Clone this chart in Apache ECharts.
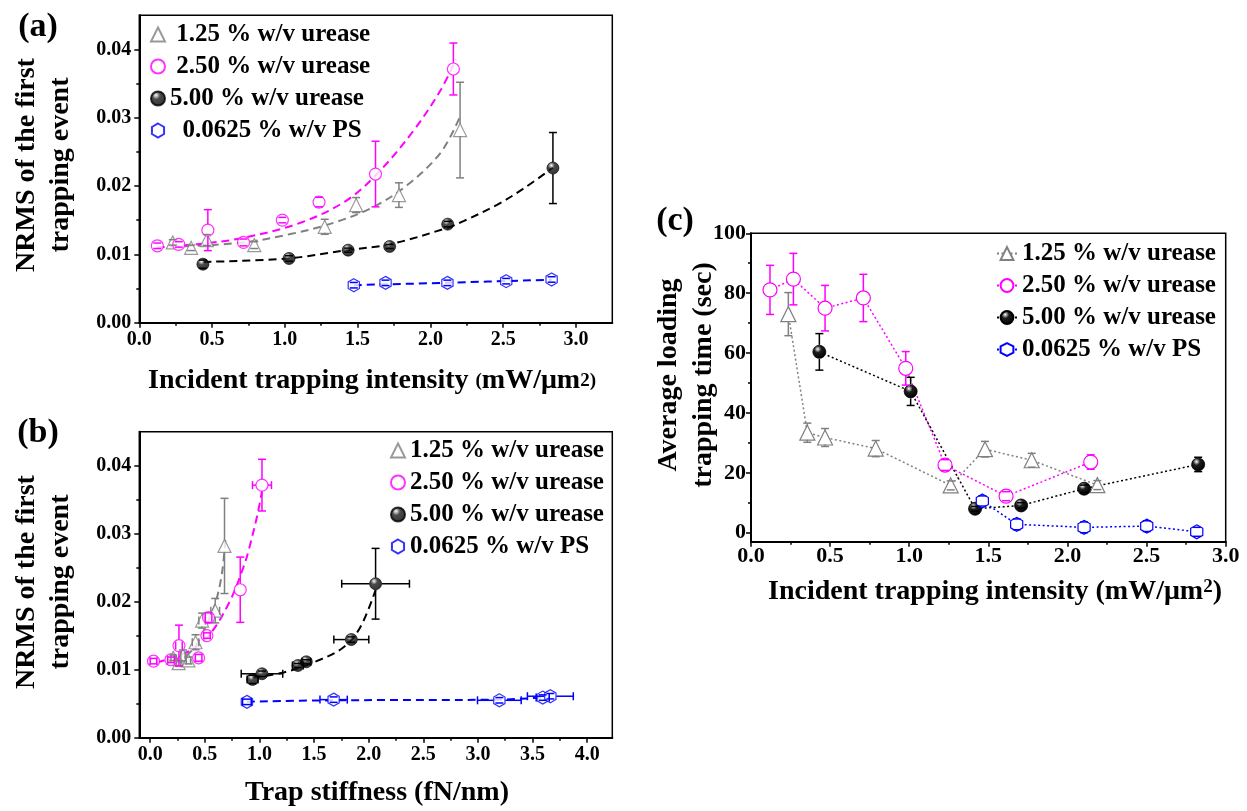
<!DOCTYPE html>
<html>
<head>
<meta charset="utf-8">
<script src="https://cdn.jsdelivr.net/npm/echarts@6/dist/echarts.min.js"></script>
<style>html,body{margin:0;padding:0;background:#fff;}#chart{width:1247px;height:811px;}</style>
</head>
<body>
<div id="chart"></div>
<script>
// ---------- DATA ----------
// Panel (a): [intensity, NRMS, yErr]
const a125 = [[0.23,0.01175,0.0004],[0.356,0.01096,0.0004],[0.464,0.0121,0.0008],[0.79,0.01136,0.0005],[1.274,0.01404,0.0011],[1.49,0.01722,0.0011],[1.784,0.01868,0.0018],[2.204,0.0282,0.007]];
const a250 = [[0.124,0.01126,0.0004],[0.271,0.01146,0.0004],[0.471,0.01355,0.003],[0.716,0.01175,0.0005],[0.983,0.01502,0.0004],[1.235,0.01766,0.0007],[1.623,0.02176,0.0048],[2.158,0.03714,0.0038]];
const a500 = [[0.437,0.00857,0.0006],[1.029,0.0094,0.0004],[1.435,0.01062,0.0003],[1.72,0.01116,0.0003],[2.119,0.01443,0.0004],[2.842,0.02264,0.0052]];
const aPS  = [[1.474,0.00549,0.0004],[1.692,0.00583,0.0004],[2.117,0.00583,0.0004],[2.521,0.00608,0.0004],[2.833,0.00633,0.0004]];
// Panel (a) fitted curves
const aFit125 = [[0.223,0.0111],[0.694,0.0117],[1.038,0.01297],[1.336,0.01463],[1.612,0.01697],[1.841,0.02015],[2.071,0.0249],[2.2,0.0300]];
const aFit250 = [[0.12,0.0110],[0.4,0.0115],[0.694,0.01234],[1.107,0.01463],[1.428,0.01795],[1.658,0.02234],[1.887,0.0282],[2.071,0.03407],[2.174,0.0385]];
const aFit500 = [[0.441,0.0089],[1.015,0.0094],[1.428,0.01062],[1.727,0.0115],[2.117,0.0139],[2.231,0.0149],[2.461,0.0173],[2.645,0.0197],[2.842,0.0227]];
const aFitPS  = [[1.474,0.0055],[2.117,0.00585],[2.833,0.0063]];

// Panel (b): [stiffness, NRMS, yErr, xErr]
const b125 = [[0.21,0.01175,0.0004,0.02],[0.26,0.01096,0.0004,0.02],[0.30,0.0121,0.0008,0.02],[0.35,0.01136,0.0005,0.02],[0.415,0.01404,0.0011,0.03],[0.475,0.01722,0.0011,0.03],[0.595,0.01868,0.0018,0.04],[0.68,0.0282,0.007,0]];
const b250 = [[0.03,0.01126,0.0004,0.03],[0.19,0.01146,0.0004,0.03],[0.263,0.01355,0.003,0.03],[0.443,0.01175,0.0005,0.03],[0.519,0.01502,0.0004,0.03],[0.534,0.01766,0.0007,0.03],[0.824,0.02176,0.0048,0],[1.023,0.03714,0.0038,0.087]];
const b500 = [[0.937,0.00857,0.0006,0.05],[1.023,0.0094,0.0004,0.19],[1.352,0.01062,0.0003,0.05],[1.429,0.01116,0.0003,0.04],[1.841,0.01443,0.0004,0.16],[2.063,0.02264,0.0052,0.31]];
const bPS  = [[0.885,0.00527,0.0004,0.04],[1.679,0.0056,0.0004,0.125],[3.196,0.0055,0.0004,0.2],[3.593,0.0059,0.0004,0.06],[3.663,0.0061,0.0004,0.21]];
const bFit125 = [[0.214,0.01133],[0.33,0.0121],[0.427,0.0138],[0.519,0.01675],[0.595,0.0197],[0.656,0.0241],[0.69,0.0295]];
const bFit250 = [[0.061,0.01108],[0.366,0.0128],[0.549,0.01527],[0.733,0.0202],[0.854,0.0251],[0.9,0.0275],[0.977,0.0325],[1.023,0.0362]];
const bFit500 = [[0.937,0.00886],[1.221,0.0096],[1.496,0.01108],[1.77,0.0133],[1.923,0.01625],[2.063,0.0217]];
const bFitPS  = [[0.885,0.0053],[1.68,0.0055],[3.2,0.0056],[3.66,0.006]];

// Panel (c): [intensity, time(sec), yErr]
const c125 = [[0.236,73.0,7.2],[0.356,33.4,3.2],[0.468,31.8,3.0],[0.788,28.1,2.7],[1.262,15.8,1.5],[1.479,27.9,2.6],[1.774,24.2,2.3],[2.189,15.9,1.5]];
const c250 = [[0.12,81.1,8.2],[0.268,84.7,8.6],[0.468,75.0,7.6],[0.71,78.4,7.9],[0.978,54.9,5.6],[1.226,22.6,1.8],[1.612,12.2,1.5],[2.147,23.6,2.4]];
const c500 = [[0.432,60.4,6.1],[1.009,47.2,4.7],[1.416,8.0,0.8],[1.707,9.1,0.9],[2.105,14.7,1.2],[2.826,22.8,2.4]];
const cPS  = [[1.462,10.6,1.7],[1.679,2.8,1.8],[2.105,1.8,1.8],[2.501,2.2,1.8],[2.817,0.3,1.5]];

// Tick values
const aXTicks = [0,0.5,1,1.5,2,2.5,3];
const aXMinor = [0.25,0.75,1.25,1.75,2.25,2.75];
const nYTicks = [0,0.01,0.02,0.03,0.04];
const nYMinor = [0.005,0.015,0.025,0.035];
const bXTicks = [0,0.5,1,1.5,2,2.5,3,3.5,4];
const bXMinor = [0.25,0.75,1.25,1.75,2.25,2.75,3.25,3.75];
const cXTicks = [0,0.5,1,1.5,2,2.5,3];
const cXMinor = [0.25,0.75,1.25,1.75,2.25,2.75];
const cYTicks = [0,20,40,60,80,100];
const cYMinor = [10,30,50,70,90];

const seriesNames = ['1.25 % w/v urease','2.50 % w/v urease','5.00 % w/v urease','0.0625 % w/v PS'];

// ---------- STYLE ----------
const FONT = '"Liberation Serif","Times New Roman",serif';
const GRAY = '#808080', MAG = '#ff00ff', BLK = '#000000', BLUE = '#0000ff';
const HEX = 'path://M0,-10L8.66,-5L8.66,5L0,10L-8.66,5L-8.66,-5Z';
const sphere = {type:'radial', x:0.38, y:0.3, r:0.72, colorStops:[{offset:0,color:'#ffffff'},{offset:0.12,color:'#b0b0b0'},{offset:0.35,color:'#1e1e1e'},{offset:1,color:'#000'}]};
const mk = {
  tri:{symbol:'triangle', itemStyle:{color:'#fff', borderColor:GRAY, borderWidth:1.2}},
  cir:{symbol:'circle', itemStyle:{color:'#fff', borderColor:MAG, borderWidth:1.2}},
  sph:{symbol:'circle', itemStyle:{color:sphere, borderColor:'#000', borderWidth:0.8}},
  hex:{symbol:HEX, itemStyle:{color:'#fff', borderColor:BLUE, borderWidth:1.2}}
};

function xAxes(grid, min, max, majors, minors, dec, fs, margin) {
  return [{
    type:'value', gridIndex:grid, min:min, max:max, position:'bottom',
    axisLine:{show:true, onZero:false, lineStyle:{color:'#000', width:2}},
    axisTick:{show:true, inside:false, length:5, customValues:majors, lineStyle:{color:'#000', width:1.5}},
    axisLabel:{customValues:majors, formatter:v=>Number(v).toFixed(dec), fontSize:fs, fontWeight:'bold', fontFamily:FONT, color:'#000', margin:margin},
    splitLine:{show:false}
  },{
    type:'value', gridIndex:grid, min:min, max:max, position:'bottom',
    axisLine:{show:false, onZero:false},
    axisTick:{show:true, inside:false, length:3, customValues:minors, lineStyle:{color:'#000', width:1.5}},
    axisLabel:{show:false}, splitLine:{show:false}
  }];
}
function yAxes(grid, min, max, majors, minors, dec, fs, margin) {
  return [{
    type:'value', gridIndex:grid, min:min, max:max, position:'left',
    axisLine:{show:true, onZero:false, lineStyle:{color:'#000', width:2}},
    axisTick:{show:true, inside:false, length:5, customValues:majors, lineStyle:{color:'#000', width:1.5}},
    axisLabel:{customValues:majors, formatter:v=>Number(v).toFixed(dec), fontSize:fs, fontWeight:'bold', fontFamily:FONT, color:'#000', margin:margin},
    splitLine:{show:false}
  },{
    type:'value', gridIndex:grid, min:min, max:max, position:'left',
    axisLine:{show:false, onZero:false},
    axisTick:{show:true, inside:false, length:3, customValues:minors, lineStyle:{color:'#000', width:1.5}},
    axisLabel:{show:false}, splitLine:{show:false}
  }];
}

const xa = xAxes(0, 0, 3.25, aXTicks, aXMinor, 1, 20, 7);
const xb = xAxes(1, -0.1, 4.23, bXTicks, bXMinor, 1, 20, 7);
const xc = xAxes(2, 0, 3, cXTicks, cXMinor, 1, 22, 4);
const ya = yAxes(0, 0, 0.045, nYTicks, nYMinor, 2, 20, 8);
const yb = yAxes(1, 0, 0.045, nYTicks, nYMinor, 2, 20, 8);
const yc = yAxes(2, -3, 100, cYTicks, cYMinor, 0, 22, 5);

function errBars(color, r, hasX) {
  return function(params, api) {
    const x = api.value(0), y = api.value(1), ey = api.value(2);
    const ex = hasX ? api.value(3) : 0;
    const c = api.coord([x, y]);
    const st = {stroke:color, lineWidth:1.5};
    const ch = [];
    const cap = 4;
    if (ey > 0) {
      const yt = api.coord([x, y + ey])[1], yb2 = api.coord([x, y - ey])[1];
      if (c[1] - yt > r) ch.push({type:'line', shape:{x1:c[0], y1:c[1]-r, x2:c[0], y2:yt}, style:st});
      if (yb2 - c[1] > r) ch.push({type:'line', shape:{x1:c[0], y1:c[1]+r, x2:c[0], y2:yb2}, style:st});
      ch.push({type:'line', shape:{x1:c[0]-cap, y1:yt, x2:c[0]+cap, y2:yt}, style:st});
      ch.push({type:'line', shape:{x1:c[0]-cap, y1:yb2, x2:c[0]+cap, y2:yb2}, style:st});
    }
    if (ex > 0) {
      const xl = api.coord([x - ex, y])[0], xr = api.coord([x + ex, y])[0];
      if (c[0] - xl > r) ch.push({type:'line', shape:{x1:c[0]-r, y1:c[1], x2:xl, y2:c[1]}, style:st});
      if (xr - c[0] > r) ch.push({type:'line', shape:{x1:c[0]+r, y1:c[1], x2:xr, y2:c[1]}, style:st});
      ch.push({type:'line', shape:{x1:xl, y1:c[1]-cap, x2:xl, y2:c[1]+cap}, style:st});
      ch.push({type:'line', shape:{x1:xr, y1:c[1]-cap, x2:xr, y2:c[1]+cap}, style:st});
    }
    return {type:'group', children:ch};
  };
}

const series = [];
function fit(data, color, xi, yi) {
  series.push({type:'line', data:data, smooth:0.35, symbol:'none', silent:true, z:2,
    xAxisIndex:xi, yAxisIndex:yi, lineStyle:{color:color, width:2, type:[8,5]}});
}
function scat(name, data, m, size, xi, yi) {
  series.push({type:'scatter', name:name, data:data.map(d=>[d[0], d[1]]), symbol:m.symbol, symbolSize:size,
    symbolKeepAspect:true, itemStyle:m.itemStyle, xAxisIndex:xi, yAxisIndex:yi, z:3, silent:true});
}
function err(data, color, r, hasX, xi, yi) {
  series.push({type:'custom', data:data, dimensions:hasX?['x','y','ey','ex']:['x','y','ey'], encode:{x:0, y:1},
    renderItem:errBars(color, r, hasX), xAxisIndex:xi, yAxisIndex:yi, z:5, silent:true});
}

// Panel (a)  xAxis 0 / yAxis 0
fit(aFit125, GRAY, 0, 0); fit(aFit250, MAG, 0, 0); fit(aFit500, BLK, 0, 0); fit(aFitPS, BLUE, 0, 0);
scat('a1', a125, mk.tri, 13, 0, 0); scat('a2', a250, mk.cir, 12, 0, 0); scat('a3', a500, mk.sph, 12, 0, 0); scat('a4', aPS, mk.hex, 13, 0, 0);
err(a125, GRAY, 6, false, 0, 0); err(a250, MAG, 6, false, 0, 0); err(a500, BLK, 6, false, 0, 0); err(aPS, BLUE, 6, false, 0, 0);

// Panel (b)  xAxis 2 / yAxis 2
fit(bFit125, GRAY, 2, 2); fit(bFit250, MAG, 2, 2); fit(bFit500, BLK, 2, 2); fit(bFitPS, BLUE, 2, 2);
scat('b1', b125, mk.tri, 13, 2, 2); scat('b2', b250, mk.cir, 12, 2, 2); scat('b3', b500, mk.sph, 12, 2, 2); scat('b4', bPS, mk.hex, 13, 2, 2);
err(b125, GRAY, 6, true, 2, 2); err(b250, MAG, 6, true, 2, 2); err(b500, BLK, 6, true, 2, 2); err(bPS, BLUE, 6, true, 2, 2);

// Panel (c)  xAxis 4 / yAxis 4
function cline(name, data, m, size, color) {
  series.push({type:'line', name:name, data:data.map(d=>[d[0], d[1]]), symbol:m.symbol, symbolSize:size,
    symbolKeepAspect:true, showAllSymbol:true, itemStyle:m.itemStyle, xAxisIndex:4, yAxisIndex:4, z:3, silent:true,
    lineStyle:{color:color, width:1.5, type:[2,2.5]}});
}
cline('c1', c125, mk.tri, 15, GRAY); cline('c2', c250, mk.cir, 14, MAG); cline('c3', c500, mk.sph, 13, BLK); cline('c4', cPS, mk.hex, 14, BLUE);
err(c125, GRAY, 7, false, 4, 4); err(c250, MAG, 7, false, 4, 4); err(c500, BLK, 7, false, 4, 4); err(cPS, BLUE, 7, false, 4, 4);

const legText = {fontSize:25, fontWeight:'bold', fontFamily:FONT, color:'#000', lineHeight:24};
const legA = {a1:' '+seriesNames[0], a2:' '+seriesNames[1], a3:seriesNames[2], a4:'  '+seriesNames[3]};
const legB = {b1:seriesNames[0], b2:seriesNames[1], b3:seriesNames[2], b4:seriesNames[3]};
const legC = {c1:seriesNames[0], c2:seriesNames[1], c3:seriesNames[2], c4:seriesNames[3]};

const bold = (size) => ({fill:'#000', fontSize:size, fontWeight:'bold', fontFamily:FONT});
function gtext(x, y, text, size, rot, extra) {
  return {type:'text', x:x, y:y, rotation:rot||0, silent:true,
    style:Object.assign(bold(size), {text:text, align:'center', verticalAlign:'middle', textAlign:'center', textVerticalAlign:'middle'}, extra||{})};
}

const option = {
  animation:false,
  backgroundColor:'#fff',
  grid:[
    {left:139.3, top:15.3, width:473, height:307.4, show:true, borderColor:'#000', borderWidth:1.5, outerBoundsMode:'none'},
    {left:139.3, top:431.7, width:473, height:306, show:true, borderColor:'#000', borderWidth:1.5, outerBoundsMode:'none'},
    {left:751, top:233.3, width:474.7, height:308.4, show:true, borderColor:'#000', borderWidth:1.5, outerBoundsMode:'none'}
  ],
  xAxis:[xa[0], xa[1], xb[0], xb[1], xc[0], xc[1]],
  yAxis:[ya[0], ya[1], yb[0], yb[1], yc[0], yc[1]],
  legend:[
    {data:['a1','a2','a3','a4'], orient:'vertical', left:150, top:22, itemWidth:14, itemHeight:14, itemGap:7, padding:0,
      selectedMode:false, formatter:n=>legA[n], textStyle:legText},
    {data:['b1','b2','b3','b4'], orient:'vertical', left:390, top:438, itemWidth:14, itemHeight:14, itemGap:7, padding:0,
      selectedMode:false, formatter:n=>legB[n], textStyle:legText},
    {data:['c1','c2','c3','c4'], orient:'vertical', left:996, top:241, itemWidth:20, itemHeight:16, itemGap:7, padding:0,
      selectedMode:false, formatter:n=>legC[n], textStyle:legText}
  ],
  graphic:[
    gtext(38, 27, '(a)', 34),
    gtext(38, 433, '(b)', 34),
    gtext(675, 221, '(c)', 34),
    gtext(44, 165, 'NRMS of the first\ntrapping event', 28, Math.PI/2, {lineHeight:34}),
    gtext(44, 582, 'NRMS of the first\ntrapping event', 28, Math.PI/2, {lineHeight:34}),
    gtext(686, 375, 'Average loading\ntrapping time (sec)', 28, Math.PI/2, {lineHeight:35}),
    gtext(372, 381, '{m|Incident trapping intensity }{s|(}{m|mW/μm}{s|2)}', 28, 0, {rich:{m:bold(28), s:bold(19)}}),
    gtext(377, 793, 'Trap stiffness (fN/nm)', 28),
    gtext(995, 592, '{m|Incident trapping intensity (mW/μm}{s|2}{m|)}', 28, 0, {rich:{m:bold(28), s:Object.assign(bold(19), {verticalAlign:'top'})}})
  ],
  series:series
};

const chart = echarts.init(document.getElementById('chart'), null, {renderer:'canvas'});
chart.setOption(option);
</script>
</body>
</html>
